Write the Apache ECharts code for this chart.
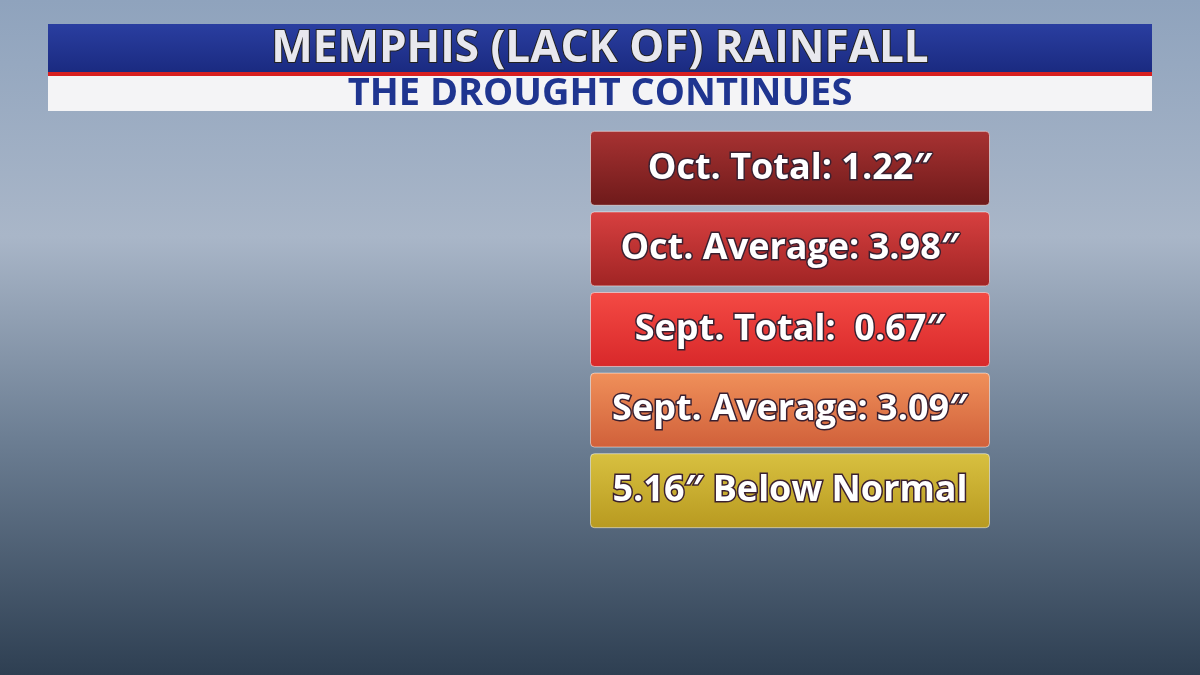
<!DOCTYPE html>
<html><head><meta charset="utf-8">
<script src="https://cdn.jsdelivr.net/npm/echarts@6/dist/echarts.min.js"></script>
<style>html,body{margin:0;padding:0;}#c{width:1200px;height:675px;}</style>
</head><body><div id="c"></div>
<script>
const title = "MEMPHIS (LACK OF) RAINFALL";
const subtitle = "THE DROUGHT CONTINUES";
const categories = ["Oct. Total: 1.22\u2033", "Oct. Average: 3.98\u2033", "Sept. Total:  0.67\u2033", "Sept. Average: 3.09\u2033", "5.16\u2033 Below Normal"];
const boxWidths = [1, 1, 1, 1, 1];
const boxColors = [["#a83232", "#6e1a1a"], ["#d84040", "#a02424"], ["#f44a44", "#d8282a"], ["#f0905a", "#d0603a"], ["#d8c040", "#b89a20"]];

const chart = echarts.init(document.getElementById('c'));
chart.setOption({
  backgroundColor: new echarts.graphic.LinearGradient(0, 0, 0, 1, [
    {offset: 0, color: '#8fa3bd'}, {offset: 0.35, color: '#a9b6c8'},
    {offset: 0.65, color: '#6c7e93'}, {offset: 1, color: '#2e3f52'}]),
  grid: {left: 590, top: 128, width: 400, height: 403},
  xAxis: {type: 'value', min: 0, max: 1, show: false},
  yAxis: {type: 'category', data: categories, inverse: true, show: false},
  series: [{
    type: 'bar', barCategoryGap: '7%',
    data: boxWidths.map((v, i) => ({value: v, itemStyle: {
      color: new echarts.graphic.LinearGradient(0, 0, 0, 1, [{offset: 0, color: boxColors[i][0]}, {offset: 1, color: boxColors[i][1]}]),
      borderRadius: 4, borderColor: 'rgba(255,255,255,0.5)', borderWidth: 1}})),
    label: {show: true, position: 'inside', formatter: p => categories[p.dataIndex],
      color: '#fff', fontFamily: 'Open Sans', fontWeight: 'bold', fontSize: 36,
      textBorderColor: '#3a2030', textBorderWidth: 3}
  }],
  graphic: [
    {type: 'rect', shape: {x: 48, y: 24, width: 1104, height: 49},
     style: {fill: new echarts.graphic.LinearGradient(0, 0, 0, 1, [{offset: 0, color: '#2a3ea0'}, {offset: 1, color: '#1a2a80'}])}},
    {type: 'rect', shape: {x: 48, y: 72, width: 1104, height: 4}, style: {fill: '#d82020'}},
    {type: 'rect', shape: {x: 48, y: 76, width: 1104, height: 35}, style: {fill: '#f4f4f6'}},
    {type: 'text', x: 600, y: 49, style: {text: title, fill: '#e8e8ee', font: 'bold 44px "Open Sans"', align: 'center', verticalAlign: 'middle', stroke: '#222', lineWidth: 2}},
    {type: 'text', x: 600, y: 94, style: {text: subtitle, fill: '#1f3590', font: 'bold 38px "Open Sans"', align: 'center', verticalAlign: 'middle'}}
  ]
});
</script></body></html>
